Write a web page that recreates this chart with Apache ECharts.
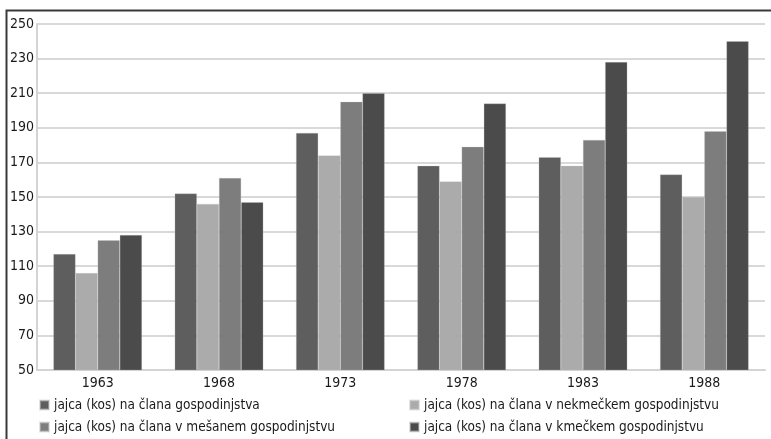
<!DOCTYPE html>
<html>
<head>
<meta charset="utf-8">
<script src="https://cdn.jsdelivr.net/npm/echarts@6/dist/echarts.min.js"></script>
<style>
html,body{margin:0;padding:0;background:#fff;}
#c{width:771px;height:439px;}
</style>
</head>
<body>
<div id="c"></div>
<script>
const years = ['1963', '1968', '1973', '1978', '1983', '1988'];
const seriesNames = [
  'jajca (kos) na člana gospodinjstva',
  'jajca (kos) na člana v nekmečkem gospodinjstvu',
  'jajca (kos) na člana v mešanem gospodinjstvu',
  'jajca (kos) na člana v kmečkem gospodinjstvu'
];
const vAll = [117, 152, 187, 168, 173, 163];
const vNonFarm = [106, 146, 174, 159, 168, 150];
const vMixed = [125, 161, 205, 179, 183, 188];
const vFarm = [128, 147, 210, 204, 228, 240];
const colors = ['#5e5e5e', '#ababab', '#7d7d7d', '#4b4b4b'];

const FONT = '"DejaVu Sans Condensed", "Liberation Sans Narrow", sans-serif';
const chart = echarts.init(document.getElementById('c'), null, {renderer: 'canvas'});
const values = [vAll, vNonFarm, vMixed, vFarm];

const legendPos = [[39, 398], [409, 398], [39, 420], [409, 420]];
const legends = seriesNames.map((n, i) => ({
  left: legendPos[i][0], top: legendPos[i][1],
  padding: 0,
  itemWidth: 9, itemHeight: 9,
  icon: 'rect',
  data: [n],
  textStyle: {fontFamily: FONT, fontSize: 13.5, color: '#1a1a1a'}
}));

chart.setOption({
  animation: false,
  backgroundColor: '#ffffff',
  color: colors,
  textStyle: {fontFamily: FONT},
  graphic: [{
    type: 'rect',
    shape: {x: 6.5, y: 10.5, width: 800, height: 500},
    style: {fill: 'none', stroke: '#3a3a3a', lineWidth: 2},
    silent: true
  }],
  grid: {left: 37, right: 6, top: 24, bottom: 69, containLabel: false},
  legend: legends,
  xAxis: {
    type: 'category',
    data: years,
    axisLine: {lineStyle: {color: '#d4d4d4', width: 2}},
    axisTick: {show: false},
    axisLabel: {fontFamily: FONT, fontSize: 14, color: '#1a1a1a', margin: 6}
  },
  yAxis: {
    type: 'value',
    min: 50, max: 250, interval: 20,
    axisLine: {show: true, lineStyle: {color: '#d4d4d4', width: 2}},
    axisTick: {show: false},
    splitLine: {lineStyle: {color: '#d9d9d9', width: 2}},
    axisLabel: {fontFamily: FONT, fontSize: 14, color: '#1a1a1a', margin: 3}
  },
  series: values.map((v, i) => ({
    name: seriesNames[i],
    type: 'bar',
    data: v,
    barGap: '0%',
    barCategoryGap: '27%',
    itemStyle: {color: colors[i], borderColor: 'rgba(200,200,200,0.5)', borderWidth: 0.5}
  }))
});
</script>
</body>
</html>
